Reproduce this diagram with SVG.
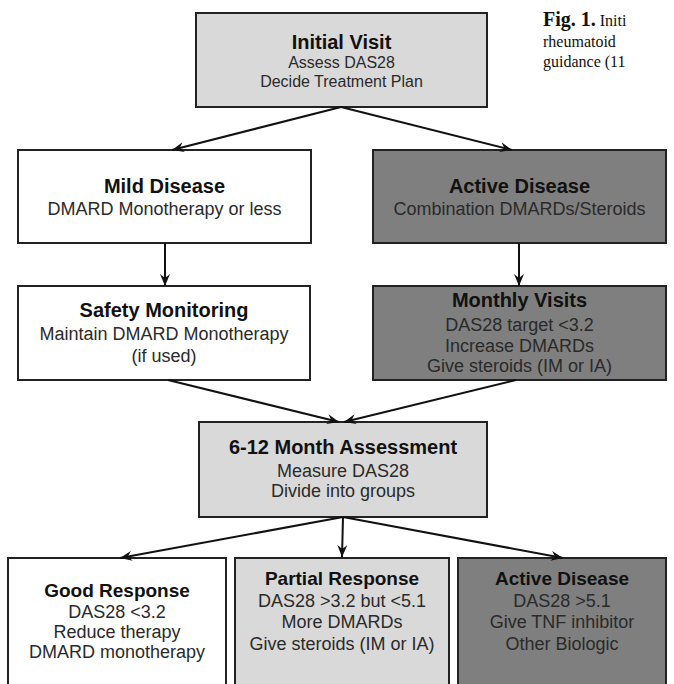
<svg xmlns="http://www.w3.org/2000/svg" width="674" height="684" viewBox="0 0 674 684">
<defs>
<style>
.box{stroke:#222;stroke-width:2}
.w{fill:#fff}.l{fill:#d9d9d9}.d{fill:#7f7f7f}
.h{font-family:"Liberation Sans",Arial,sans-serif;font-weight:bold;font-size:20px;fill:#111;text-anchor:middle}
.t{font-family:"Liberation Sans",Arial,sans-serif;font-size:18px;fill:#2a2a2a;text-anchor:middle}
.hs{font-size:19px}.ts{font-size:16px}
.c{stroke:#111;stroke-width:2;fill:none;marker-end:url(#ah)}
.cap{font-family:"Liberation Serif","Times New Roman",serif;font-size:16px;fill:#111}
</style>
<marker id="ah" markerUnits="userSpaceOnUse" markerWidth="13" markerHeight="11" refX="12" refY="5" orient="auto" viewBox="0 0 13 10">
<path d="M0,0 L12,5 L0,10 L4,5 Z" fill="#111"/>
</marker>
</defs>
<g id="caption">
<text class="cap" x="543" y="26"><tspan font-weight="bold" font-size="20px">Fig. 1.</tspan> Initi</text>
<text class="cap" x="543" y="47">rheumatoid</text>
<text class="cap" x="543" y="67">guidance (11</text>
</g>
<g id="initial-visit">
<rect class="box l" x="196" y="13" width="291" height="94"/>
<text class="h" x="341.5" y="49">Initial Visit</text>
<text class="t ts" x="341.5" y="68">Assess DAS28</text>
<text class="t ts" x="341.5" y="87">Decide Treatment Plan</text>
</g>
<g id="mild-disease">
<rect class="box w" x="18" y="150" width="293" height="93"/>
<text class="h" x="164.5" y="193">Mild Disease</text>
<text class="t" x="164.5" y="215">DMARD Monotherapy or less</text>
</g>
<g id="active-disease">
<rect class="box d" x="373" y="150" width="293" height="93"/>
<text class="h" x="519.5" y="193">Active Disease</text>
<text class="t" x="519.5" y="215">Combination DMARDs/Steroids</text>
</g>
<g id="safety-monitoring">
<rect class="box w" x="18" y="286" width="292" height="94"/>
<text class="h" x="164" y="317">Safety Monitoring</text>
<text class="t" x="164" y="340">Maintain DMARD Monotherapy</text>
<text class="t" x="164" y="362">(if used)</text>
</g>
<g id="monthly-visits">
<rect class="box d" x="373" y="286" width="293" height="94"/>
<text class="h" x="519.5" y="307">Monthly Visits</text>
<text class="t" x="519.5" y="331">DAS28 target &lt;3.2</text>
<text class="t" x="519.5" y="352">Increase DMARDs</text>
<text class="t" x="519.5" y="372">Give steroids (IM or IA)</text>
</g>
<g id="assessment">
<rect class="box l" x="199" y="422" width="288" height="95"/>
<text class="h" x="343" y="454">6-12 Month Assessment</text>
<text class="t" x="343" y="477">Measure DAS28</text>
<text class="t" x="343" y="497">Divide into groups</text>
</g>
<g id="good-response">
<rect class="box w" x="8" y="558" width="218" height="134"/>
<text class="h hs" x="117" y="597">Good Response</text>
<text class="t" x="117" y="618">DAS28 &lt;3.2</text>
<text class="t" x="117" y="638">Reduce therapy</text>
<text class="t" x="117" y="658">DMARD monotherapy</text>
</g>
<g id="partial-response">
<rect class="box l" x="235" y="558" width="214" height="134"/>
<text class="h hs" x="342" y="585">Partial Response</text>
<text class="t" x="342" y="607">DAS28 &gt;3.2 but &lt;5.1</text>
<text class="t" x="342" y="628">More DMARDs</text>
<text class="t" x="342" y="650">Give steroids (IM or IA)</text>
</g>
<g id="active-disease-2">
<rect class="box d" x="458" y="558" width="208" height="134"/>
<text class="h hs" x="562" y="585">Active Disease</text>
<text class="t" x="562" y="607">DAS28 &gt;5.1</text>
<text class="t" x="562" y="628">Give TNF inhibitor</text>
<text class="t" x="562" y="650">Other Biologic</text>
</g>
<g id="connectors">
<path class="c" d="M341,107 L172,150"/>
<path class="c" d="M341,107 L512,150"/>
<path class="c" d="M165,243 L165,286"/>
<path class="c" d="M519,243 L519,286"/>
<path class="c" d="M168,380 L339,422"/>
<path class="c" d="M516,380 L344,422"/>
<path class="c" d="M343,517 L120,558"/>
<path class="c" d="M343,517 L342,557"/>
<path class="c" d="M343,517 L563,558"/>
</g>
</svg>
